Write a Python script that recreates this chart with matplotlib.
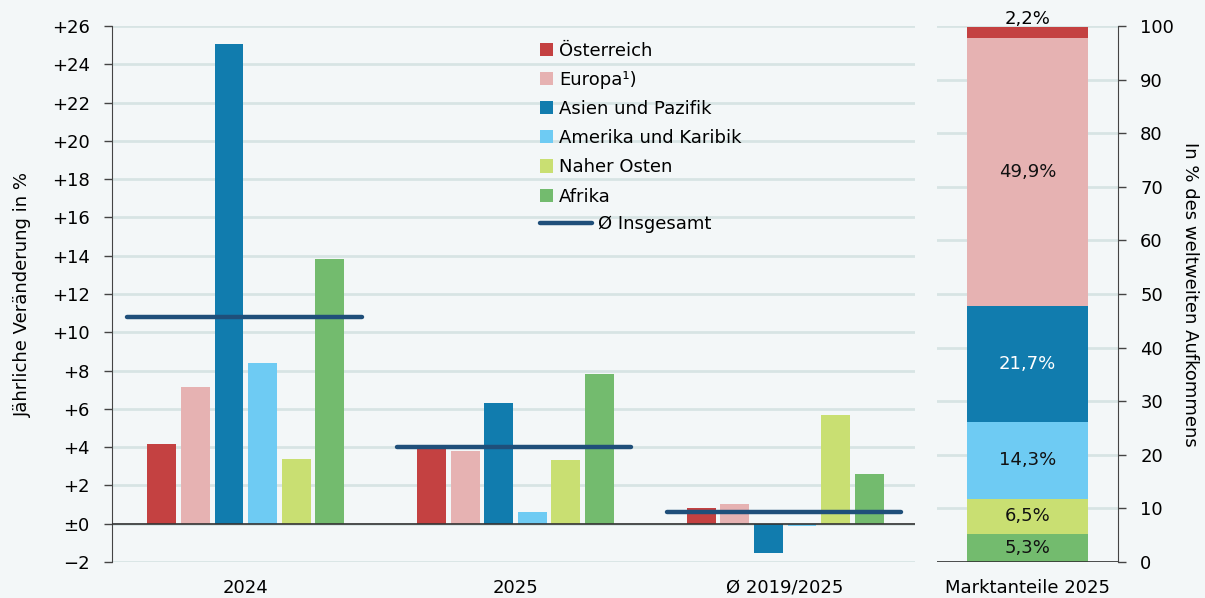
import matplotlib.pyplot as plt
import numpy as np
from matplotlib.patches import Patch
from matplotlib.lines import Line2D

# data
groups = ['2024', '2025', 'Ø 2019/2025']
regions = ['Österreich', 'Europa¹)', 'Asien und Pazifik', 'Amerika und Karibik',
           'Naher Osten', 'Afrika']
colors = ['#C44141', '#E6B2B2', '#117CAE', '#6ECBF3', '#C9DF72', '#73BB6E']
change_2024 = [4.15, 7.13, 25.04, 8.38, 3.37, 13.81]
change_2025 = [3.96, 3.79, 6.29, 0.60, 3.32, 7.81]
change_avg = [0.81, 1.02, -1.52, -0.11, 5.67, 2.58]
total = [10.78, 4.03, 0.62]
share_2025 = [2.2, 49.9, 21.7, 14.3, 6.5, 5.3]
share_labels = ['2,2%', '49,9%', '21,7%', '14,3%', '6,5%', '5,3%']

bg = '#F3F7F8'
grid_c = '#D7E4E4'
line_c = '#1F4F7A'

plt.rcParams['font.family'] = ['DejaVu Sans']
plt.rcParams['font.size'] = 13

fig = plt.figure(figsize=(12.05, 5.98), dpi=100, facecolor=bg)
ax = fig.add_axes([0.093, 0.0602, 0.666, 0.8963], facecolor=bg)
ax2 = fig.add_axes([0.7776, 0.0602, 0.1502, 0.8963], facecolor=bg)

# left panel: annual change
vals = np.array([change_2024, change_2025, change_avg])
x = np.arange(len(groups))
width = 0.107
step = 0.1245
for i, reg in enumerate(regions):
    ax.bar(x + (i - 2.5) * step, vals[:, i], width, color=colors[i], zorder=3)
for k in range(len(groups)):
    ax.plot([x[k] - 0.44, x[k] + 0.43], [total[k], total[k]], color=line_c,
            lw=3.2, solid_capstyle='round', zorder=4)

ax.set_xlim(-0.496, 2.48)
ax.set_ylim(-2, 26)
yt = np.arange(-2, 27, 2)
ax.set_yticks(yt)
ax.set_yticklabels(['−2', '±0'] + ['+%d' % v for v in yt[2:]])
ax.set_xticks(x)
ax.set_xticklabels(groups)
ax.tick_params(axis='x', length=0, pad=12)
ax.tick_params(axis='y', length=6, width=1, color='#444444', pad=10)
ax.yaxis.grid(True, color=grid_c, lw=2, zorder=0)
ax.axhline(0, color='#333333', lw=1.2, zorder=5)
for s in ['top', 'right', 'bottom']:
    ax.spines[s].set_visible(False)
ax.spines['left'].set_color('#444444')
ax.set_ylabel('Jährliche Veränderung in %', labelpad=14)

h1 = [Patch(facecolor=c, edgecolor='none') for c in colors]
leg1 = ax.legend(h1, regions, loc='upper left', bbox_to_anchor=(0.533, 0.971),
                 frameon=False, handlelength=0.75, handleheight=0.75,
                 handletextpad=0.3, labelspacing=0.62, borderaxespad=0,
                 borderpad=0)
ax.add_artist(leg1)
h2 = [Line2D([0], [0], color=line_c, lw=3.2, solid_capstyle='round')]
ax.legend(h2, ['Ø Insgesamt'], loc='center left', bbox_to_anchor=(0.533, 0.63),
          frameon=False, handlelength=2.9, handletextpad=0.35, borderaxespad=0,
          borderpad=0)

# right panel: market shares
bottoms = np.cumsum([0] + share_2025[::-1])[:-1][::-1]
for i in range(len(regions)):
    ax2.bar(0, share_2025[i], 0.668, bottom=bottoms[i], color=colors[i], zorder=3)
    if i == 0:
        ax2.text(0, bottoms[i] + share_2025[i] - 0.3, share_labels[i],
                 ha='center', va='bottom', zorder=4)
    else:
        tc = 'white' if i == 2 else '#111111'
        ax2.text(0, bottoms[i] + share_2025[i] / 2, share_labels[i],
                 ha='center', va='center', color=tc, zorder=4)
ax2.set_xlim(-0.5, 0.5)
ax2.set_ylim(0, 100)
ax2.set_yticks(np.arange(0, 101, 10))
ax2.yaxis.tick_right()
ax2.yaxis.set_label_position('right')
ax2.set_xticks([0])
ax2.set_xticklabels(['Marktanteile 2025'])
ax2.tick_params(axis='x', length=0, pad=12)
ax2.tick_params(axis='y', length=6, width=1, color='#444444', pad=10)
ax2.yaxis.grid(True, color=grid_c, lw=2, zorder=0)
ax2.axhline(0, color='#333333', lw=1.2, zorder=5)
for s in ['top', 'left', 'bottom']:
    ax2.spines[s].set_visible(False)
ax2.spines['right'].set_color('#444444')
ax2.set_ylabel('In % des weltweiten Aufkommens', rotation=270, labelpad=18)

fig.savefig('out.png', dpi=100, facecolor=bg)
